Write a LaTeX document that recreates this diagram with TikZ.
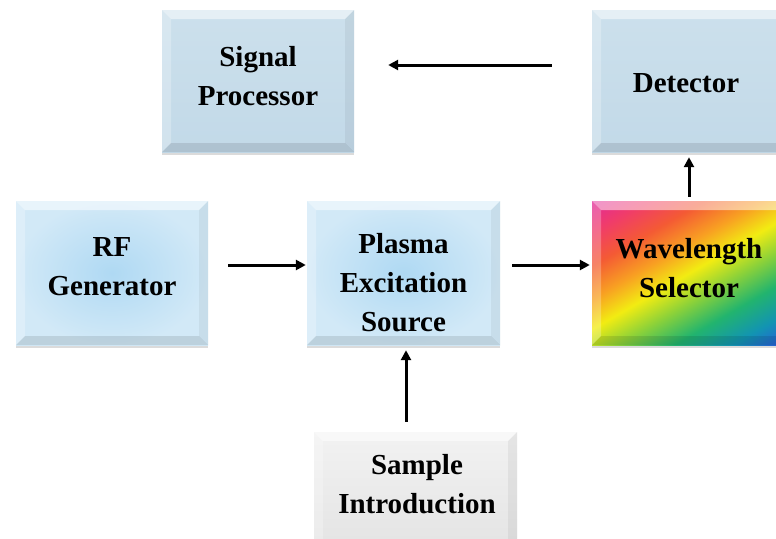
\documentclass[tikz,border=0pt]{standalone}
\usepackage{fontspec}
\setmainfont{Liberation Serif}
\usetikzlibrary{arrows.meta,shadows}
\definecolor{rb0}{HTML}{E0289C}
\definecolor{rb1}{HTML}{F03C6A}
\definecolor{rb2}{HTML}{F45A34}
\definecolor{rb3}{HTML}{F8A022}
\definecolor{rb4}{HTML}{F2EC12}
\definecolor{rb5}{HTML}{8ED238}
\definecolor{rb6}{HTML}{22B46E}
\definecolor{rb7}{HTML}{1294B2}
\definecolor{rb8}{HTML}{2C54E0}
\pgfdeclarehorizontalshading{rainbow}{100bp}{color(0bp)=(rb0); color(15bp)=(rb0); color(24bp)=(rb1); color(33bp)=(rb2); color(42bp)=(rb3); color(50bp)=(rb4); color(58bp)=(rb5); color(67bp)=(rb6); color(76bp)=(rb7); color(85bp)=(rb8); color(100bp)=(rb8)}
\definecolor{bluein}{HTML}{AFD9F3}
\definecolor{blueout}{HTML}{D2E9F7}
\definecolor{steeltop}{HTML}{CCE0EC}
\definecolor{steelbot}{HTML}{C2D9E8}
\definecolor{graytop}{HTML}{F2F2F2}
\definecolor{graybot}{HTML}{E4E4E4}
\begin{document}
\begin{tikzpicture}[x=1pt,y=-1pt,
  bevel/.style={path picture={
    \def\pb{path picture bounding box}
    \fill[white,opacity=.5] (\pb.north west) -- (\pb.north east) -- ([xshift=-9pt,yshift=-9pt]\pb.north east) -- ([xshift=9pt,yshift=-9pt]\pb.north west) -- cycle;
    \fill[white,opacity=.25] (\pb.north west) -- ([xshift=9pt,yshift=-9pt]\pb.north west) -- ([xshift=9pt,yshift=9pt]\pb.south west) -- (\pb.south west) -- cycle;
    \fill[black,opacity=.05] (\pb.north east) -- (\pb.south east) -- ([xshift=-9pt,yshift=9pt]\pb.south east) -- ([xshift=-9pt,yshift=-9pt]\pb.north east) -- cycle;
    \fill[black,opacity=.10] (\pb.south west) -- ([xshift=9pt,yshift=9pt]\pb.south west) -- ([xshift=-9pt,yshift=9pt]\pb.south east) -- (\pb.south east) -- cycle;
  }},
  box/.style={rectangle, inner sep=0pt, bevel,
    drop shadow={shadow xshift=0pt, shadow yshift=-3pt, opacity=.2, fill=black!70}},
  txt/.style={inner sep=0pt, align=center, font=\bfseries\fontsize{29}{39}\selectfont},
  bluebox/.style={box, inner color=bluein, outer color=blueout},
  steelbox/.style={box, top color=steeltop, bottom color=steelbot},
  graybox/.style={box, top color=graytop, bottom color=graybot},
  rainbox/.style={box, shade, shading=rainbow, shading angle=-60},
  arr/.style={line width=3pt, -{Triangle[length=10pt,width=10pt]}}
]
\useasboundingbox (0,0) rectangle (776,538);
\fill[white] (0,0) rectangle (776,538);

\node[steelbox, minimum width=192pt, minimum height=142pt] (sig) at (258,81) {};
\node[steelbox, minimum width=194pt, minimum height=142pt] (det) at (689,81) {};
\node[bluebox, minimum width=192pt, minimum height=144pt] (rf) at (112,273) {};
\node[bluebox, minimum width=193pt, minimum height=144pt] (pl) at (403.5,273) {};
\node[rainbox, minimum width=194pt, minimum height=144pt] (wl) at (689,273) {};
\node[graybox, minimum width=203pt, minimum height=116pt] (sa) at (415.5,490) {};

\node[txt] (sigt) at (258,76) {Signal\\Processor};
\node[txt] (dett) at (686,83) {Detector};
\node[txt] (rft) at (112,267) {RF\\Generator};
\node[txt] (plt) at (403.5,283) {Plasma\\Excitation\\Source};
\node[txt] (wlt) at (689,268) {Wavelength\\Selector};
\node[txt] (sat) at (417,484.5) {Sample\\Introduction};

\draw[arr, shorten <=40pt, shorten >=34pt] ([yshift=16pt]det.west) -- ([yshift=16pt]sig.east);
\draw[arr, shorten <=4pt, shorten >=5pt] (wl.north) -- (det.south);
\draw[arr, shorten <=20pt, shorten >=1pt] ([yshift=8pt]rf.east) -- ([yshift=8pt]pl.west);
\draw[arr, shorten <=12pt, shorten >=2pt] ([yshift=8pt]pl.east) -- ([yshift=8pt]wl.west);
\draw[arr, shorten <=10pt, shorten >=5pt] ([xshift=-9.5pt]sa.north) -- ([xshift=2.5pt]pl.south);
\end{tikzpicture}
\end{document}
